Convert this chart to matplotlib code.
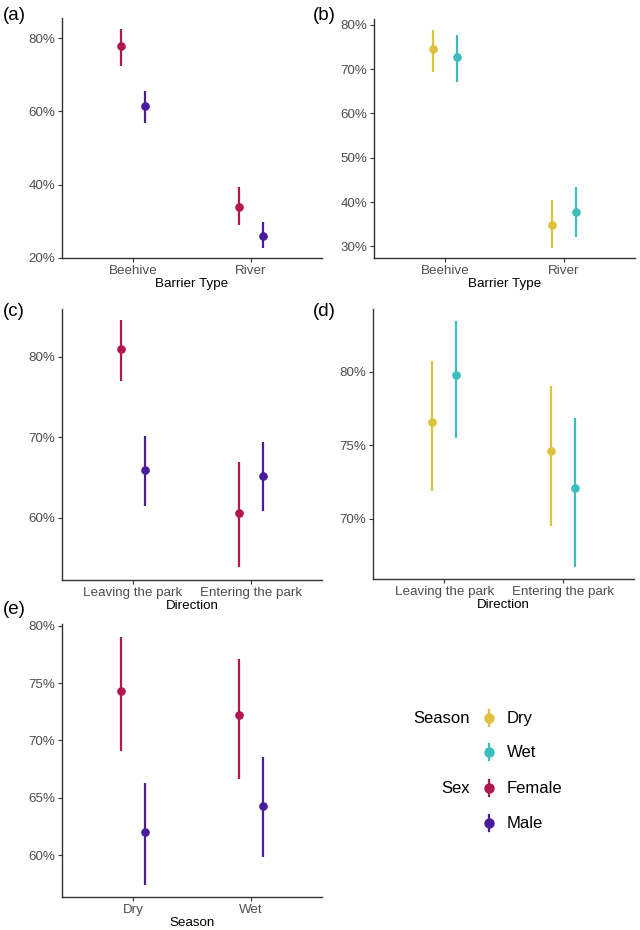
import numpy as np
import matplotlib
matplotlib.use("Agg")
from matplotlib import pyplot as plt
from matplotlib.ticker import PercentFormatter
from matplotlib.lines import Line2D

plt.rcParams['font.family'] = ['Liberation Sans', 'DejaVu Sans']

# colours
c_female = '#B3164F'
c_male = '#4A1C9C'
c_dry = '#DEC23B'
c_wet = '#3DBDBE'

# (a) barrier type by sex
barrier = ['Beehive', 'River']
a_female = [77.9, 34.0]
a_female_lo = [72.4, 28.9]
a_female_hi = [82.5, 39.5]
a_male = [61.4, 26.1]
a_male_lo = [56.9, 22.7]
a_male_hi = [65.6, 29.7]

# (b) barrier type by season
b_dry = [74.5, 34.9]
b_dry_lo = [69.4, 29.6]
b_dry_hi = [78.9, 40.4]
b_wet = [72.8, 37.8]
b_wet_lo = [67.2, 32.2]
b_wet_hi = [77.6, 43.3]

# (c) direction by sex
direction = ['Leaving the park', 'Entering the park']
c_fem = [81.0, 60.6]
c_fem_lo = [77.0, 53.95]
c_fem_hi = [84.5, 66.9]
c_mal = [65.9, 65.2]
c_mal_lo = [61.5, 60.9]
c_mal_hi = [70.1, 69.4]

# (d) direction by season
d_dry = [76.55, 74.6]
d_dry_lo = [71.9, 69.5]
d_dry_hi = [80.7, 79.05]
d_wet = [79.75, 72.05]
d_wet_lo = [75.5, 66.7]
d_wet_hi = [83.45, 76.85]

# (e) season by sex
season = ['Dry', 'Wet']
e_fem = [74.35, 72.2]
e_fem_lo = [69.1, 66.65]
e_fem_hi = [79.0, 77.1]
e_mal = [62.0, 64.3]
e_mal_lo = [57.4, 59.85]
e_mal_hi = [66.3, 68.6]

W, H = 640, 930
fig = plt.figure(figsize=(6.4, 9.3), dpi=100)


def make_ax(l, t, r, b):
    return fig.add_axes([l / W, 1 - b / H, (r - l) / W, (b - t) / H])


def pointrange(ax, xs, mid, lo, hi, color):
    ax.vlines(xs, lo, hi, color=color, lw=1.6, zorder=2)
    ax.plot(xs, mid, 'o', ms=5.2, color=color, zorder=3)


def style(ax, cats, xlabel, ylim, yticks):
    ax.set_xlim(-0.6, len(cats) - 0.4)
    ax.set_ylim(*ylim)
    ax.set_xticks(np.arange(len(cats)))
    ax.set_xticklabels(cats)
    ax.set_yticks(yticks)
    ax.yaxis.set_major_formatter(PercentFormatter(xmax=100, decimals=0))
    for s in ['top', 'right']:
        ax.spines[s].set_visible(False)
    for s in ['left', 'bottom']:
        ax.spines[s].set_color('#333333')
        ax.spines[s].set_linewidth(1.0)
    ax.tick_params(axis='both', length=3, width=0.8, color='#333333',
                   labelsize=9.6, labelcolor='#4D4D4D', pad=2)
    ax.set_xlabel(xlabel, fontsize=9.6, color='black', labelpad=1)


def panel(ax, cats, s1, s2, c1, c2, xlabel, ylim, yticks):
    x = np.arange(len(cats))
    pointrange(ax, x - 0.1, *s1, c1)
    pointrange(ax, x + 0.1, *s2, c2)
    style(ax, cats, xlabel, ylim, yticks)


ax_a = make_ax(62, 18, 322, 258)
panel(ax_a, barrier, (a_female, a_female_lo, a_female_hi),
      (a_male, a_male_lo, a_male_hi), c_female, c_male,
      'Barrier Type', (20, 85.5), [20, 40, 60, 80])

ax_b = make_ax(374, 19, 635, 258)
panel(ax_b, barrier, (b_dry, b_dry_lo, b_dry_hi),
      (b_wet, b_wet_lo, b_wet_hi), c_dry, c_wet,
      'Barrier Type', (27.4, 81.3), [30, 40, 50, 60, 70, 80])

ax_c = make_ax(62, 309, 322, 580)
panel(ax_c, direction, (c_fem, c_fem_lo, c_fem_hi),
      (c_mal, c_mal_lo, c_mal_hi), c_female, c_male,
      'Direction', (52.3, 85.9), [60, 70, 80])

ax_d = make_ax(373, 309, 634, 579)
panel(ax_d, direction, (d_dry, d_dry_lo, d_dry_hi),
      (d_wet, d_wet_lo, d_wet_hi), c_dry, c_wet,
      'Direction', (65.88, 84.27), [70, 75, 80])

ax_e = make_ax(62, 624, 322, 897)
panel(ax_e, season, (e_fem, e_fem_lo, e_fem_hi),
      (e_mal, e_mal_lo, e_mal_hi), c_female, c_male,
      'Season', (56.36, 80.15), [60, 65, 70, 75, 80])

# panel tags
for tag, px, py in [('(a)', 3, 16), ('(b)', 313, 16), ('(c)', 3, 312),
                    ('(d)', 313, 312), ('(e)', 3, 610)]:
    fig.text(px / W, 1 - py / H, tag, fontsize=13.5, va='center', ha='left')

# legend
leg_rows = [('Season', 'Dry', c_dry, 718), ('', 'Wet', c_wet, 752),
            ('Sex', 'Female', c_female, 788), ('', 'Male', c_male, 823)]
for title, lab, col, py in leg_rows:
    y = 1 - py / H
    if title:
        fig.text(470 / W, y, title, fontsize=12, ha='right', va='center')
    fig.add_artist(Line2D([489 / W, 489 / W], [y - 8 / H, y + 8 / H],
                          color=col, lw=1.6, transform=fig.transFigure))
    fig.add_artist(Line2D([489 / W], [y], marker='o', ms=6.5, color=col,
                          transform=fig.transFigure))
    fig.text(507 / W, y, lab, fontsize=12, ha='left', va='center')

fig.savefig('out.png', dpi=100, facecolor='white')
